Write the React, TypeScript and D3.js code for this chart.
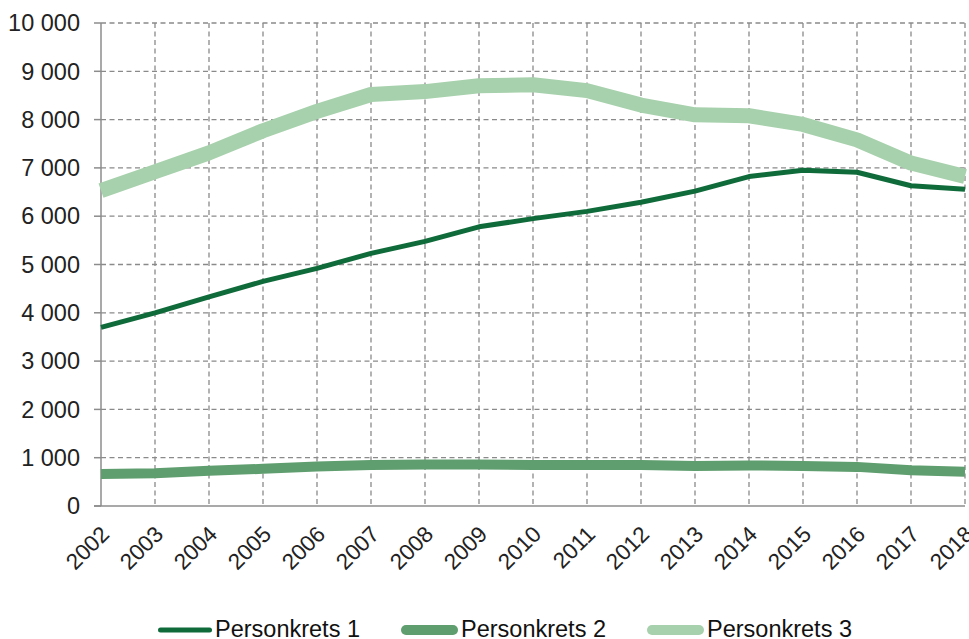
import React from "react";
import * as d3 from "d3";

const years = [2002, 2003, 2004, 2005, 2006, 2007, 2008, 2009, 2010, 2011, 2012, 2013, 2014, 2015, 2016, 2017, 2018];
const personkrets1 = [3700, 4000, 4330, 4650, 4920, 5230, 5480, 5780, 5950, 6100, 6290, 6520, 6820, 6950, 6910, 6630, 6560];
const personkrets2 = [660, 680, 730, 770, 820, 850, 860, 860, 850, 850, 850, 830, 840, 830, 810, 740, 710];
const personkrets3 = [6530, 6920, 7310, 7770, 8170, 8520, 8580, 8700, 8720, 8600, 8300, 8100, 8080, 7900, 7580, 7100, 6820];
const yTicks = [0, 1000, 2000, 3000, 4000, 5000, 6000, 7000, 8000, 9000, 10000];
const seriesNames = ["Personkrets 1", "Personkrets 2", "Personkrets 3"];
const seriesColors = ["#106b3b", "#5f9e6e", "#a7d1ac"];
const seriesWidths = [5, 10, 15];

export default function App() {
  const W = 969, H = 639;
  const left = 101, right = 965, top = 23, bottom = 506;
  const x = d3.scalePoint<number>().domain(years).range([left, right]);
  const y = d3.scaleLinear().domain([0, 10000]).range([bottom, top]);
  const line = d3.line<number>().x((_, i) => x(years[i])!).y((d) => y(d));
  const fmt = (v: number) => d3.format(",")(v).replace(/,/g, " ");
  const allSeries = [personkrets1, personkrets2, personkrets3];
  const order = [2, 1, 0];
  const legendX = [158, 401, 647];
  const legendW = [54, 57, 57];
  const legendLW = [5, 10, 10];
  const font = "'Liberation Sans', Arial, sans-serif";
  const fs = 23.5;
  return (
    <svg width={W} height={H} style={{ position: "absolute", left: 0, top: 0 }} fontFamily={font}>
      <rect width={W} height={H} fill="#fff" />
      {yTicks.filter((t) => t > 0).map((t) => (
        <line key={"gy" + t} x1={left} x2={right} y1={y(t)} y2={y(t)} stroke="#8a8a8a" strokeWidth={1.3} strokeDasharray="5,3.5" />
      ))}
      {years.slice(1).map((yr) => (
        <line key={"gx" + yr} x1={x(yr)} x2={x(yr)} y1={top} y2={bottom} stroke="#8a8a8a" strokeWidth={1.3} strokeDasharray="5,3.5" />
      ))}
      <line x1={left} x2={left} y1={top} y2={bottom} stroke="#8c8c8c" strokeWidth={1.5} />
      <line x1={left - 7} x2={right} y1={bottom} y2={bottom} stroke="#8c8c8c" strokeWidth={1.5} />
      {yTicks.map((t) => (
        <g key={"yt" + t}>
          <line x1={left - 7} x2={left} y1={y(t)} y2={y(t)} stroke="#8c8c8c" strokeWidth={1.5} />
          <text x={80} y={y(t)} dy="0.35em" textAnchor="end" fontSize={fs} fill="#222">{fmt(t)}</text>
        </g>
      ))}
      {years.map((yr) => (
        <text key={"xt" + yr} transform={`translate(${x(yr)! + 4},${bottom + 24}) rotate(-45)`} textAnchor="end" dy="0.35em" fontSize={22.5} fill="#222">{yr}</text>
      ))}
      {order.map((i) => (
        <path key={"s" + i} d={line(allSeries[i])!} fill="none" stroke={seriesColors[i]} strokeWidth={seriesWidths[i]} strokeLinejoin="round" />
      ))}
      {seriesNames.map((n, i) => (
        <g key={"lg" + i}>
          <line x1={legendX[i] + legendLW[i] / 2} x2={legendX[i] + legendW[i] - legendLW[i] / 2} y1={630} y2={630} stroke={seriesColors[i]} strokeWidth={legendLW[i]} strokeLinecap="round" />
          <text x={legendX[i] + legendW[i] + 3} y={637} fontSize={fs} fill="#111">{n}</text>
        </g>
      ))}
    </svg>
  );
}
